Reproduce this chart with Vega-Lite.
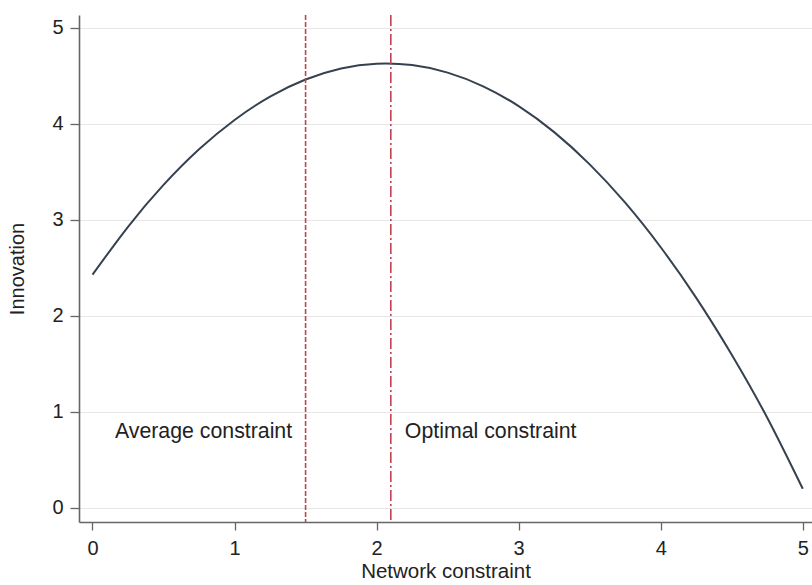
{
  "$schema": "https://vega.github.io/schema/vega-lite/v6.json",
  "width": 733,
  "height": 507,
  "autosize": {"type": "none"},
  "padding": {"left": 79, "top": 15, "right": 0, "bottom": 63},
  "background": "white",
  "config": {
    "view": {"stroke": null},
    "font": "Liberation Sans",
    "axis": {
      "labelFont": "Liberation Sans",
      "titleFont": "Liberation Sans",
      "labelFontSize": 19,
      "titleFontSize": 20,
      "titleFontWeight": "normal",
      "labelColor": "#222222",
      "titleColor": "#222222",
      "domainColor": "#666666",
      "domainWidth": 1.6,
      "tickColor": "#666666",
      "tickWidth": 1.3
    }
  },
  "layer": [
    {
      "data": {"values": [
        {"x": 0, "y": 2.43}, {"x": 0.25, "y": 2.929}, {"x": 0.5, "y": 3.365}, {"x": 0.75, "y": 3.736},
        {"x": 1, "y": 4.042}, {"x": 1.25, "y": 4.285}, {"x": 1.5, "y": 4.463}, {"x": 1.75, "y": 4.578},
        {"x": 2, "y": 4.628}, {"x": 2.25, "y": 4.613}, {"x": 2.5, "y": 4.535}, {"x": 2.75, "y": 4.392},
        {"x": 3, "y": 4.186}, {"x": 3.25, "y": 3.915}, {"x": 3.5, "y": 3.579}, {"x": 3.75, "y": 3.18},
        {"x": 4, "y": 2.716}, {"x": 4.25, "y": 2.189}, {"x": 4.5, "y": 1.597}, {"x": 4.75, "y": 0.94},
        {"x": 5, "y": 0.2}
      ]},
      "mark": {"type": "line", "color": "#36414f", "strokeWidth": 2, "interpolate": "natural"},
      "encoding": {
        "x": {
          "field": "x", "type": "quantitative",
          "scale": {"domain": [-0.095, 5.065], "nice": false, "zero": false},
          "axis": {"values": [0, 1, 2, 3, 4, 5], "format": "d", "title": "Network constraint", "grid": false, "tickSize": 8, "labelPadding": 8, "titlePadding": 3, "labelFontSize": 20, "titleFontSize": 20.5}
        },
        "y": {
          "field": "y", "type": "quantitative",
          "scale": {"domain": [-0.146, 5.135], "nice": false, "zero": false},
          "axis": {"values": [0, 1, 2, 3, 4, 5], "format": "d", "title": "Innovation", "grid": true, "gridColor": "#e6e6e6", "gridWidth": 1.2, "tickSize": 9, "labelPadding": 7, "titlePadding": 24, "labelFontSize": 20, "titleFontSize": 20}
        }
      }
    },
    {
      "data": {"values": [
        {"x": 1.5, "kind": "Average constraint"},
        {"x": 2.1, "kind": "Optimal constraint"}
      ]},
      "mark": {"type": "rule", "color": "#c2434f", "strokeWidth": 1.6},
      "encoding": {
        "x": {"field": "x", "type": "quantitative"},
        "strokeDash": {
          "field": "kind", "type": "nominal",
          "scale": {"domain": ["Average constraint", "Optimal constraint"], "range": [[5, 2], [11, 3, 2, 3]]},
          "legend": null
        }
      }
    },
    {
      "data": {"values": [
        {"x": 0.158, "y": 0.79, "label": "Average constraint"},
        {"x": 2.199, "y": 0.79, "label": "Optimal constraint"}
      ]},
      "mark": {"type": "text", "align": "left", "baseline": "middle", "fontSize": 21.3, "color": "#222222", "font": "Liberation Sans"},
      "encoding": {
        "x": {"field": "x", "type": "quantitative"},
        "y": {"field": "y", "type": "quantitative"},
        "text": {"field": "label"}
      }
    }
  ]
}
